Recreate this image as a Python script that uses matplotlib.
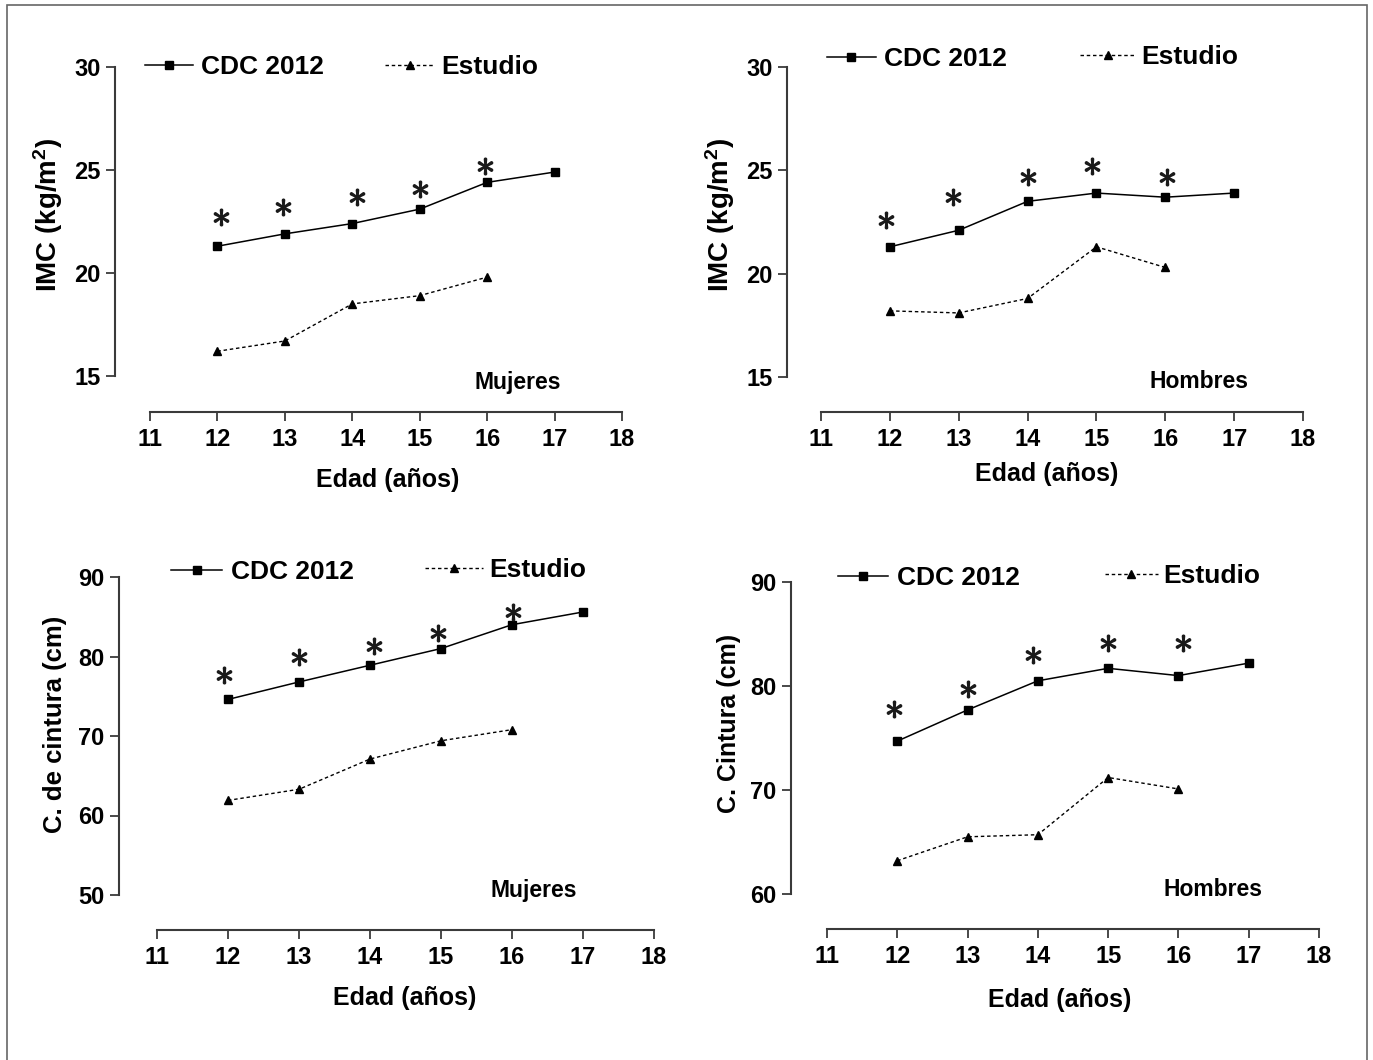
import matplotlib
matplotlib.use("Agg")
import matplotlib.pyplot as plt
from matplotlib.patches import Rectangle

plt.rcParams['font.family'] = ['Liberation Sans', 'DejaVu Sans']
plt.rcParams['font.weight'] = 'bold'
plt.rcParams['axes.labelweight'] = 'bold'
plt.rcParams['mathtext.fontset'] = 'custom'
plt.rcParams['mathtext.bf'] = 'Liberation Sans:bold'
plt.rcParams['mathtext.rm'] = 'Liberation Sans:bold'
plt.rcParams['mathtext.default'] = 'bf'

## data
edad_cdc = [12, 13, 14, 15, 16, 17]
edad_est = [12, 13, 14, 15, 16]
x_ticks = [11, 12, 13, 14, 15, 16, 17, 18]

imc_muj_cdc = [21.3, 21.9, 22.4, 23.1, 24.4, 24.9]
imc_muj_est = [16.2, 16.7, 18.5, 18.9, 19.8]
imc_muj_star_x = [12.05, 12.97, 14.07, 15.0, 15.97]
imc_muj_star_y = [22.7, 23.2, 23.7, 24.1, 25.2]

imc_hom_cdc = [21.3, 22.1, 23.5, 23.9, 23.7, 23.9]
imc_hom_est = [18.2, 18.1, 18.8, 21.3, 20.3]
imc_hom_star_x = [11.95, 12.91, 14.0, 14.93, 16.02]
imc_hom_star_y = [22.6, 23.7, 24.7, 25.2, 24.7]

cc_muj_cdc = [74.6, 76.8, 78.9, 81.0, 84.0, 85.6]
cc_muj_est = [61.9, 63.3, 67.1, 69.4, 70.8]
cc_muj_star_x = [11.95, 13.0, 14.06, 14.96, 16.02]
cc_muj_star_y = [77.7, 80.0, 81.3, 83.0, 85.6]

cc_hom_cdc = [74.7, 77.7, 80.5, 81.7, 81.0, 82.2]
cc_hom_est = [63.2, 65.5, 65.7, 71.2, 70.1]
cc_hom_star_x = [11.96, 13.0, 13.93, 15.0, 16.06]
cc_hom_star_y = [77.8, 79.7, 83.0, 84.1, 84.1]

W, H = 1373, 1060
fig = plt.figure(figsize=(W / 100, H / 100), dpi=100)
PT = 72 / 100  # pixels -> points

# outer frame
fig.patches.append(Rectangle((7 / W, -0.01), (1367 - 7) / W, 1.01 - 5 / H,
                             transform=fig.transFigure, fill=False,
                             edgecolor='#666666', linewidth=1.2))

spine_col = '#3a3a3a'


def panel(box, ylim, yticks, cdc, est, star_x, star_y, ylabel, ylab_pos,
          xlab_pos, sex, sex_pos, leg1, leg2, ylab_size):
    x0, x1, yt, yb, lout, bout = box
    ax = fig.add_axes([x0 / W, 1 - yb / H, (x1 - x0) / W, (yb - yt) / H])
    ax.set_xlim(11, 18)
    ax.set_ylim(*ylim)
    for s in ['top', 'right']:
        ax.spines[s].set_visible(False)
    ax.spines['left'].set_position(('outward', lout * PT))
    ax.spines['bottom'].set_position(('outward', bout * PT))
    for s in ['left', 'bottom']:
        ax.spines[s].set_linewidth(1.5)
        ax.spines[s].set_color(spine_col)
    ax.set_xticks(x_ticks)
    ax.set_yticks(yticks)
    ax.tick_params(direction='out', length=6.5, width=1.3, color=spine_col,
                   labelsize=17, pad=4)
    ax.tick_params(axis='x', pad=5)
    ax.patch.set_alpha(0)

    l1, = ax.plot(edad_cdc, cdc, '-', color='black', lw=1.1, marker='s',
                  ms=5.5, clip_on=False)
    l2, = ax.plot(edad_est, est, color='black', lw=1.0, ls=(0, (2.5, 2)),
                  marker='^', ms=5.5, clip_on=False)
    ax.plot(star_x, star_y, ls='none', marker=r'$\ast$', ms=12,
            color='#1a1a1a', clip_on=False)

    # legends
    lg1 = ax.legend(handles=[l1], labels=['CDC 2012'], loc='center left',
                    bbox_to_anchor=(leg1[0] / W, 1 - leg1[1] / H),
                    bbox_transform=fig.transFigure, frameon=False,
                    borderpad=0, borderaxespad=0, handlelength=leg1[2],
                    handletextpad=0.32, fontsize=19)
    ax.add_artist(lg1)
    ax.legend(handles=[l2], labels=['Estudio'], loc='center left',
              bbox_to_anchor=(leg2[0] / W, 1 - leg2[1] / H),
              bbox_transform=fig.transFigure, frameon=False,
              borderpad=0, borderaxespad=0, handlelength=leg2[2],
              handletextpad=0.22, fontsize=19)

    ax.set_ylabel(ylabel, fontsize=ylab_size)
    ax.yaxis.set_label_coords(ylab_pos[0] / W, 1 - ylab_pos[1] / H,
                              transform=fig.transFigure)
    ax.yaxis.label.set_va('center')
    ax.set_xlabel('Edad (años)', fontsize=18)
    ax.xaxis.set_label_coords(xlab_pos[0] / W, 1 - xlab_pos[1] / H,
                              transform=fig.transFigure)
    ax.xaxis.label.set_va('center')
    fig.text(sex_pos[0] / W, 1 - sex_pos[1] / H, sex, fontsize=16.5,
             ha='center', va='center', fontweight='bold')
    return ax


panel((150, 622, 67, 376, 35, 36), (15, 30), [15, 20, 25, 30],
      imc_muj_cdc, imc_muj_est, imc_muj_star_x, imc_muj_star_y,
      'IMC (kg/m$^{2}$)', (48, 215), (388, 480), 'Mujeres', (518, 382),
      (145, 67, 1.82), (385, 67, 1.9), 20)

panel((821, 1303, 67, 377, 34, 35), (15, 30), [15, 20, 25, 30],
      imc_hom_cdc, imc_hom_est, imc_hom_star_x, imc_hom_star_y,
      'IMC (kg/m$^{2}$)', (720, 215), (1047, 474), 'Hombres', (1199, 382),
      (827, 59, 1.85), (1080, 57, 2.1), 20)

panel((157, 654, 577, 895, 38, 35), (50, 90), [50, 60, 70, 80, 90],
      cc_muj_cdc, cc_muj_est, cc_muj_star_x, cc_muj_star_y,
      'C. de cintura (cm)', (55, 724), (405, 998), 'Mujeres', (534, 890),
      (171, 572, 1.95), (425, 570, 2.2), 18.5)

panel((827, 1319, 582, 894, 36, 35), (60, 90), [60, 70, 80, 90],
      cc_hom_cdc, cc_hom_est, cc_hom_star_x, cc_hom_star_y,
      'C. Cintura (cm)', (729, 723), (1060, 1000), 'Hombres', (1213, 890),
      (838, 578, 1.9), (1105, 576, 2.0), 18)

fig.savefig('out.png', dpi=100)
